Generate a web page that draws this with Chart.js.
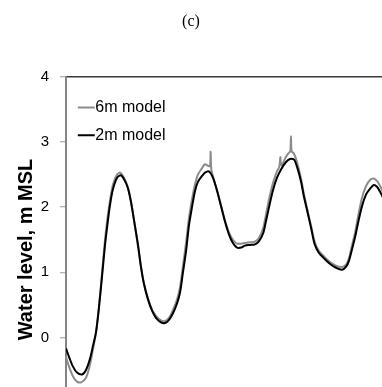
<!DOCTYPE html>
<html>
<head>
<meta charset="utf-8">
<script src="https://cdn.jsdelivr.net/npm/chart.js@4/dist/chart.umd.min.js"></script>
<style>
  html, body { margin: 0; padding: 0; background: #fff; overflow: hidden; }
  #wrap { width: 382px; height: 452px; }
</style>
</head>
<body>
<div id="wrap"><canvas id="c" width="382" height="452"></canvas></div>
<script>
// ---- data (time in hours, water level in m MSL) ----
const chartTitle = "(c)";
const yAxisTitle = "Water level, m MSL";
const seriesNames = ["6m model", "2m model"];
const yTicks = [-1, 0, 1, 2, 3, 4];

const hours6m = [0, 0.44, 1.02, 1.6, 2.2, 2.91, 3.49, 3.93, 4.37, 4.8, 5.24, 5.68, 5.97, 6.4, 6.84, 7.42, 7.9,
  8.59, 9.02, 9.46, 9.9, 10.48, 10.92, 11.35, 11.94, 12.52, 13.1, 13.83, 14.41, 15.0, 15.57, 16.16, 16.6,
  17.0, 17.47, 17.9, 18.34, 18.78, 19.2, 19.8, 20.23, 20.6, 20.95, 21.05, 21.15, 21.4, 22.0, 22.56, 23.14,
  23.73, 24.3, 24.9, 25.5, 26.05, 26.8, 27.5, 28.1, 28.7, 29.1, 29.55, 30.13, 30.7, 31.05, 31.2, 31.35,
  32.0, 32.4, 32.65, 32.75, 32.85, 33.2, 33.6, 34.2, 34.6, 35.1, 35.7, 36.2, 36.8, 37.6, 38.4, 39.3, 40.2,
  40.8, 41.2, 41.6, 42.1, 42.5, 43.1, 43.7, 44.3, 44.8, 45.3, 45.7, 46.3];
const level6m = [-0.30, -0.45, -0.60, -0.68, -0.69, -0.62, -0.42, -0.18, 0.08, 0.47, 0.98, 1.50, 1.78, 2.10, 2.35, 2.50, 2.53,
  2.42, 2.30, 2.09, 1.80, 1.40, 1.08, 0.83, 0.60, 0.43, 0.33, 0.26, 0.25, 0.30, 0.42, 0.58, 0.77,
  1.08, 1.45, 1.83, 2.12, 2.35, 2.50, 2.60, 2.66, 2.64, 2.63, 2.85, 2.58, 2.47, 2.25, 2.03, 1.80,
  1.61, 1.50, 1.44, 1.44, 1.45, 1.46, 1.47, 1.53, 1.68, 1.88, 2.12, 2.37, 2.55, 2.62, 2.77, 2.64,
  2.77, 2.83, 2.86, 3.09, 2.86, 2.82, 2.70, 2.45, 2.22, 1.98, 1.70, 1.47, 1.33, 1.24, 1.16, 1.10, 1.08,
  1.12, 1.22, 1.40, 1.62, 1.85, 2.15, 2.33, 2.42, 2.44, 2.40, 2.33, 2.20];

const hours2m = [0, 0.44, 1.02, 1.6, 2.33, 2.91, 3.49, 3.93, 4.37, 4.8, 5.24, 5.68, 5.97, 6.4, 6.84, 7.42, 8.0,
  8.59, 9.02, 9.46, 9.9, 10.48, 10.92, 11.35, 11.94, 12.52, 13.1, 13.83, 14.41, 15.0, 15.57, 16.16, 16.6,
  17.0, 17.47, 17.9, 18.34, 18.78, 19.2, 19.8, 20.23, 20.8, 21.4, 22.0, 22.56, 23.14, 23.73, 24.3, 24.9,
  25.5, 26.05, 26.8, 27.5, 28.1, 28.7, 29.1, 29.55, 30.13, 30.7, 31.3, 32.0, 32.6, 33.2, 33.6, 34.2, 34.6,
  35.1, 35.7, 36.2, 36.8, 37.6, 38.4, 39.3, 40.2, 40.8, 41.2, 41.6, 42.1, 42.5, 43.1, 43.7, 44.3, 44.8,
  45.3, 45.7, 46.3];
const level2m = [-0.17, -0.30, -0.45, -0.54, -0.57, -0.50, -0.33, -0.13, 0.08, 0.46, 0.93, 1.42, 1.68, 2.03, 2.28, 2.45, 2.49,
  2.40, 2.29, 2.08, 1.80, 1.42, 1.08, 0.82, 0.58, 0.41, 0.30, 0.23, 0.22, 0.27, 0.37, 0.52, 0.69,
  0.98, 1.32, 1.72, 2.00, 2.25, 2.39, 2.48, 2.53, 2.55, 2.45, 2.25, 2.02, 1.78, 1.58, 1.45, 1.38,
  1.38, 1.41, 1.42, 1.43, 1.48, 1.60, 1.78, 2.00, 2.26, 2.45, 2.58, 2.69, 2.74, 2.73, 2.63, 2.40, 2.18,
  1.95, 1.67, 1.43, 1.30, 1.21, 1.13, 1.07, 1.04, 1.09, 1.18, 1.34, 1.55, 1.75, 2.02, 2.20, 2.29, 2.34,
  2.31, 2.24, 2.12];

const toPoints = (xs, ys) => xs.map((x, i) => ({ x: x, y: ys[i] }));

Chart.defaults.font.family = "'Liberation Sans', Arial, sans-serif";
Chart.defaults.color = "#000";

// place the (vertical) legend inside the plot area, near its top-left corner
const legendShift = {
  id: 'legendShift',
  afterLayout(chart) {
    const lg = chart.legend, ca = chart.chartArea;
    if (lg && ca) {
      const h = lg.bottom - lg.top;
      lg.left = ca.left + 7.7;
      lg.top = ca.top + 11;
      lg.bottom = lg.top + h;
    }
  }
};

new Chart(document.getElementById('c'), {
  type: 'line',
  data: {
    datasets: [
      {
        label: seriesNames[0],
        data: toPoints(hours6m, level6m),
        borderColor: '#8c8c8c',
        backgroundColor: '#8c8c8c',
        borderWidth: 2,
        pointRadius: 0,
        tension: 0.3,
        order: 2
      },
      {
        label: seriesNames[1],
        data: toPoints(hours2m, level2m),
        borderColor: '#000000',
        backgroundColor: '#000000',
        borderWidth: 2,
        pointRadius: 0,
        tension: 0.3,
        order: 1
      }
    ]
  },
  plugins: [legendShift],
  options: {
    responsive: false,
    animation: false,
    layout: { padding: { left: 0, right: 0, top: 0, bottom: 30 } },
    plugins: {
      tooltip: { enabled: false },
      title: {
        display: true,
        text: chartTitle,
        color: '#000',
        font: { family: "'Liberation Serif', 'Times New Roman', serif", size: 16, weight: 'normal' },
        padding: { top: 12, bottom: 45.8 }
      },
      legend: {
        position: 'chartArea',
        align: 'start',
        labels: {
          usePointStyle: true,
          pointStyle: 'line',
          boxWidth: 2,
          boxHeight: 12,
          padding: 11.6,
          color: '#000',
          font: { size: 16 },
          sort: (a, b) => a.datasetIndex - b.datasetIndex
        }
      }
    },
    scales: {
      x: {
        type: 'linear',
        min: 0,
        max: 46,
        display: false
      },
      y: {
        type: 'linear',
        min: -1.3,
        max: 4,
        afterBuildTicks: (scale) => { scale.ticks = yTicks.map(v => ({ value: v })); },
        afterFit: (scale) => { scale.width = 66; },
        border: { display: true, color: '#858585', width: 2 },
        grid: {
          drawOnChartArea: true,
          color: (ctx) => (ctx.tick && ctx.tick.value === 4) ? '#3a3a3a' : 'rgba(0,0,0,0)',
          lineWidth: 1.5,
          drawTicks: true,
          tickLength: 6,
          tickColor: '#9a9a9a',
          tickWidth: 1
        },
        ticks: {
          padding: 11,
          color: '#000',
          font: { size: 15 },
          callback: (v) => String(v)
        },
        title: {
          display: true,
          text: yAxisTitle,
          color: '#000',
          font: { size: 20, weight: 'bold' },
          padding: { top: 14, bottom: 0 }
        }
      }
    }
  }
});
</script>
</body>
</html>
